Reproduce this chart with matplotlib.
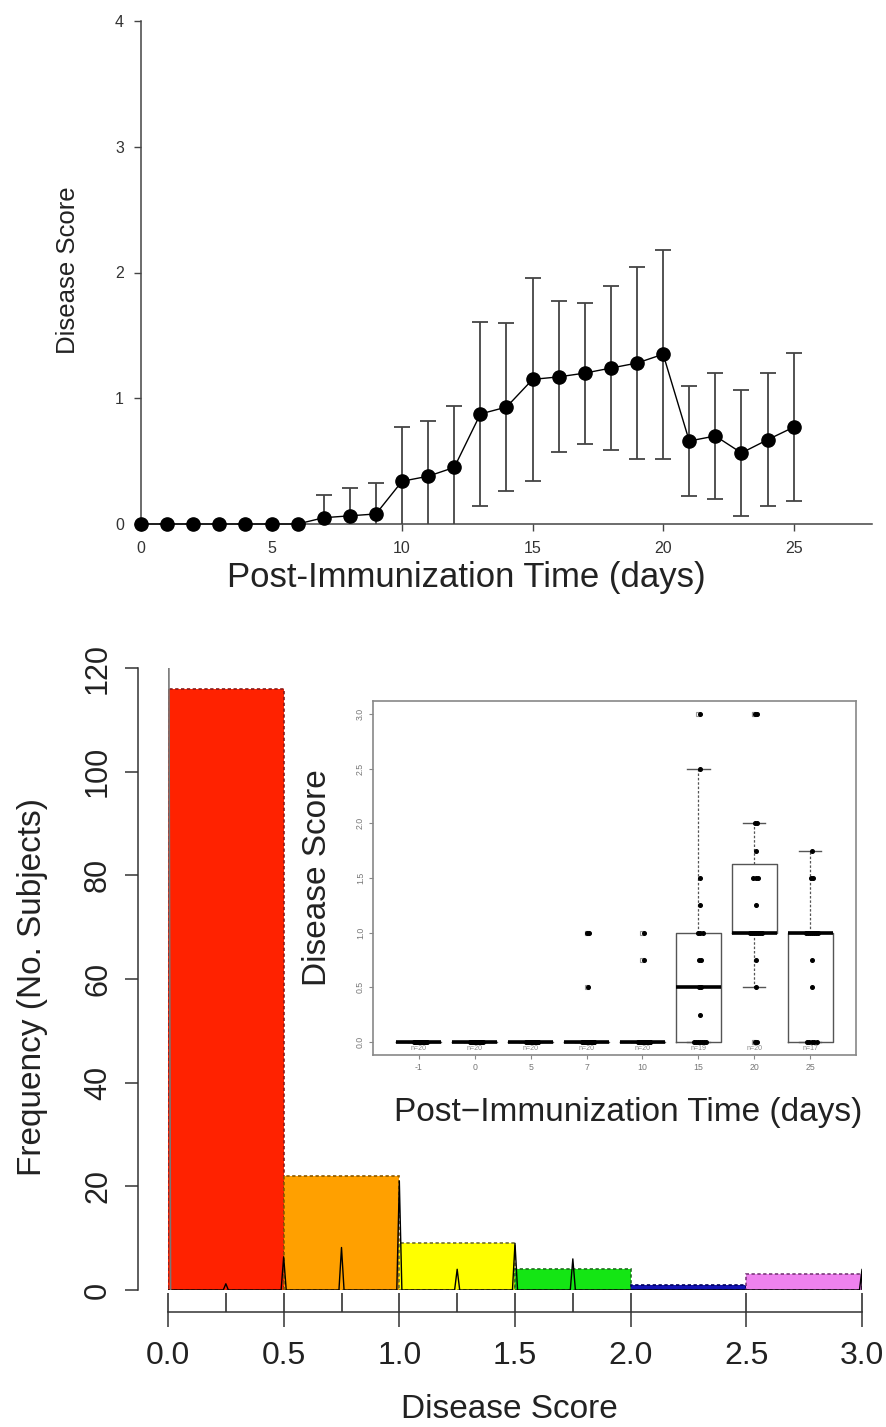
import numpy as np
import matplotlib
matplotlib.use('Agg')
import matplotlib.pyplot as plt
from matplotlib.ticker import FixedLocator

plt.rcParams['font.family'] = ['Liberation Sans', 'DejaVu Sans']

# ---------------- data: top panel (mean +/- SD over time) ----------------
days = list(range(26))
mean_score = [0, 0, 0, 0, 0, 0, 0, 0.05, 0.065, 0.08, 0.34, 0.38, 0.45, 0.875, 0.93,
              1.15, 1.17, 1.20, 1.24, 1.28, 1.35, 0.66, 0.70, 0.565, 0.67, 0.77]
sd_score = [0, 0, 0, 0, 0, 0, 0, 0.18, 0.22, 0.25, 0.43, 0.44, 0.49, 0.73, 0.67,
            0.81, 0.60, 0.56, 0.65, 0.76, 0.83, 0.44, 0.50, 0.50, 0.53, 0.59]

# ---------------- data: histogram ----------------
bin_edges = [0.0, 0.5, 1.0, 1.5, 2.0, 2.5, 3.0]
bin_counts = [116, 22, 9, 4, 1, 3]
bin_colors = ['#FF2200', '#FFA000', '#FFFF00', '#14E614', '#1414B4', '#EE82EE']
bin_edgecolors = ['#8B1A1A', '#8B5A00', '#6E6E30', '#1E6E1E', '#000060', '#7A3A7A']
spike_x = [0.0, 0.25, 0.5, 0.75, 1.0, 1.25, 1.5, 1.75, 3.0]
spike_h = [150, 1.2, 6.4, 8.2, 21.0, 4.0, 9.0, 6.0, 4.0]
rug_x = [0.0, 0.25, 0.5, 0.75, 1.0, 1.25, 1.5, 1.75, 2.0, 2.5, 3.0]

# ---------------- data: inset boxplots ----------------
inset_days = ['-1', '0', '5', '7', '10', '15', '20', '25']
score_dm1 = [0.0] * 20
score_d0 = [0.0] * 20
score_d5 = [0.0] * 20
score_d7 = [0.0] * 17 + [0.5, 1.0, 1.0]
score_d10 = [0.0] * 18 + [0.75, 1.0]
score_d15 = [0.0] * 7 + [0.25, 0.5, 0.5, 0.75, 0.75, 1.0, 1.0, 1.0, 1.25, 1.5, 2.5, 3.0]
score_d20 = [0.0, 0.0, 0.5, 0.75, 1.0, 1.0, 1.0, 1.0, 1.0, 1.0, 1.0, 1.25, 1.5, 1.5,
             1.5, 1.75, 2.0, 2.0, 3.0, 3.0]
score_d25 = [0.0] * 5 + [0.5, 0.75] + [1.0] * 7 + [1.5, 1.5, 1.75]
inset_scores = [score_dm1, score_d0, score_d5, score_d7, score_d10, score_d15, score_d20, score_d25]

W, H = 886, 1427
fig = plt.figure(figsize=(W / 100, H / 100), dpi=100)


def fx(px):
    return px / W


def fy(py):
    return 1 - py / H


PT = 72 / 100  # points per pixel

# ======================= TOP PANEL =======================
ax1 = fig.add_axes([fx(141), fy(524), fx(872) - fx(141), fy(21) - fy(524)])
ax1.set_xlim(0, 28)
ax1.set_ylim(0, 4)
ax1.errorbar(days, mean_score, yerr=sd_score, fmt='none', ecolor='#444444',
             elinewidth=1.3, capsize=5.5, capthick=1.3, zorder=2)
ax1.plot(days, mean_score, color='black', lw=1.0, marker='o', ms=9.5,
         clip_on=False, zorder=3)
for s in ['top', 'right']:
    ax1.spines[s].set_visible(False)
for s in ['left', 'bottom']:
    ax1.spines[s].set_color('#444444')
    ax1.spines[s].set_linewidth(1.1)
ax1.set_xticks([0, 5, 10, 15, 20, 25])
ax1.set_yticks([0, 1, 2, 3, 4])
ax1.tick_params(axis='both', direction='out', length=7 * PT, width=1, color='#444444',
                labelsize=11.5, labelcolor='#333333')
ax1.tick_params(axis='x', pad=10 * PT)
ax1.tick_params(axis='y', pad=10 * PT)
fig.text(fx(68), fy(270), 'Disease Score', rotation=90, ha='center', va='center',
         fontsize=18.5, color='#222222')
fig.text(fx(466), fy(578), 'Post-Immunization Time (days)', ha='center', va='center',
         fontsize=25, color='#222222')

# ======================= HISTOGRAM =======================
ax2 = fig.add_axes([fx(168), fy(1290), fx(862) - fx(168), fy(668) - fy(1290)])
ax2.set_xlim(0, 3.0)
ax2.set_ylim(0, 120)
lefts = bin_edges[:-1]
widths = np.diff(bin_edges)
for l, w, c, fc, ec in zip(lefts, widths, bin_counts, bin_colors, bin_edgecolors):
    ax2.bar(l, c, width=w, align='edge', color=fc, edgecolor=ec, linestyle=(0, (2, 1.5)),
            linewidth=1.2, zorder=1)
# density-like spikes (first spike at 0 is clipped at the top, drawn grey)
hw = 0.011
px_, py_ = [0.0], [0.0]
for sx, sh in zip(spike_x[1:], spike_h[1:]):
    px_ += [sx - hw, sx, sx + hw]
    py_ += [0.0, sh, 0.0]
px_.append(3.0)
py_.append(0.0)
order = np.argsort(px_, kind='stable')
ax2.plot(np.array(px_)[order], np.array(py_)[order], color='black', lw=1.0, zorder=3)
ax2.plot([spike_x[0] + hw, spike_x[0] + 0.002], [0, spike_h[0]], color='#777777',
         lw=1.2, zorder=3)

for s in ['top', 'right']:
    ax2.spines[s].set_visible(False)
ax2.spines['left'].set_position(('outward', 30 * PT))
ax2.spines['left'].set_bounds(0, 120)
ax2.spines['bottom'].set_position(('outward', 22 * PT))
ax2.spines['bottom'].set_bounds(0, 3)
for s in ['left', 'bottom']:
    ax2.spines[s].set_color('#333333')
    ax2.spines[s].set_linewidth(1.1)
ax2.set_xticks([0, 0.5, 1.0, 1.5, 2.0, 2.5, 3.0])
ax2.set_xticklabels(['0.0', '0.5', '1.0', '1.5', '2.0', '2.5', '3.0'])
ax2.xaxis.set_minor_locator(FixedLocator(rug_x))
ax2.xaxis.remove_overlapping_locs = False
ax2.tick_params(axis='x', which='major', direction='out', length=15 * PT, width=1.1,
                color='#333333', labelsize=23, pad=14 * PT, labelcolor='#222222')
ax2.tick_params(axis='x', which='minor', direction='in', length=19 * PT, width=1.2,
                color='#333333')
ax2.set_yticks([0, 20, 40, 60, 80, 100, 120])
ax2.tick_params(axis='y', direction='out', length=13 * PT, width=1.1, color='#333333',
                labelsize=22, pad=12 * PT, labelcolor='#222222')
for t in ax2.get_yticklabels():
    t.set_rotation(90)
    t.set_va('center')
fig.text(fx(33), fy(987), 'Frequency (No. Subjects)', rotation=90, ha='center',
         va='center', fontsize=24, color='#222222')
fig.text(fx(509), fy(1410), 'Disease Score', ha='center', va='center', fontsize=24,
         color='#222222')

# ======================= INSET =======================
ax3 = fig.add_axes([fx(373), fy(1055), fx(856) - fx(373), fy(701) - fy(1055)])
ax3.set_facecolor('white')


def fivenum_stats(vals, coef=1.5):
    x = np.sort(np.asarray(vals, float))
    n = len(x)
    n4 = np.floor((n + 3) / 2) / 2
    d = np.array([1, n4, (n + 1) / 2, n + 1 - n4, n]) - 1
    fn = 0.5 * (x[np.floor(d).astype(int)] + x[np.ceil(d).astype(int)])
    q1, med, q3 = fn[1], fn[2], fn[3]
    iqr = q3 - q1
    lo = x[x >= q1 - coef * iqr].min()
    hi = x[x <= q3 + coef * iqr].max()
    fl = x[(x < lo) | (x > hi)]
    return dict(med=med, q1=q1, q3=q3, whislo=lo, whishi=hi, fliers=fl)


positions = np.arange(1, len(inset_days) + 1)
stats = [fivenum_stats(v) for v in inset_scores]
ax3.bxp(stats, positions=positions, widths=0.8, capwidths=0.4,
        boxprops=dict(color='#555555', lw=1.0),
        medianprops=dict(color='black', lw=2.6),
        whiskerprops=dict(color='#555555', lw=0.9, linestyle=(0, (2, 1.5))),
        capprops=dict(color='#555555', lw=1.0),
        flierprops=dict(marker='s', mfc='none', mec='#999999', ms=3.2, mew=0.8),
        showfliers=True)

# stripchart points, spread deterministically for repeated values
for pos, vals in zip(positions, inset_scores):
    uv, cnt = np.unique(vals, return_counts=True)
    for v, m in zip(uv, cnt):
        span = min(0.045 * (m - 1), 0.22)
        offs = np.linspace(-span / 2, span / 2, m) + 0.03
        ax3.plot(pos + offs, [v] * m, 'o', color='black', ms=2.6, zorder=4)
    ax3.text(pos, -0.065, 'n=%d' % len(vals), ha='center', va='center', fontsize=5,
             color='#888888')

ax3.set_xlim(0.18, 8.82)
ax3.set_ylim(-0.12, 3.12)
ax3.set_xticks(positions)
ax3.set_xticklabels(inset_days)
ax3.set_yticks([0, 0.5, 1.0, 1.5, 2.0, 2.5, 3.0])
ax3.set_yticklabels(['0.0', '0.5', '1.0', '1.5', '2.0', '2.5', '3.0'])
ax3.tick_params(axis='both', direction='out', length=4 * PT, width=0.8, color='#888888',
                labelsize=6.3, labelcolor='#777777', pad=3)
for t in ax3.get_yticklabels():
    t.set_rotation(90)
    t.set_va('center')
for s in ax3.spines.values():
    s.set_color('#888888')
    s.set_linewidth(1.2)
fig.text(fx(318), fy(878), 'Disease Score', rotation=90, ha='center', va='center',
         fontsize=24, color='#222222')
fig.text(fx(628), fy(1112), 'Post\u2212Immunization Time (days)', ha='center',
         va='center', fontsize=24, color='#222222')

fig.savefig('out.png', dpi=100)
